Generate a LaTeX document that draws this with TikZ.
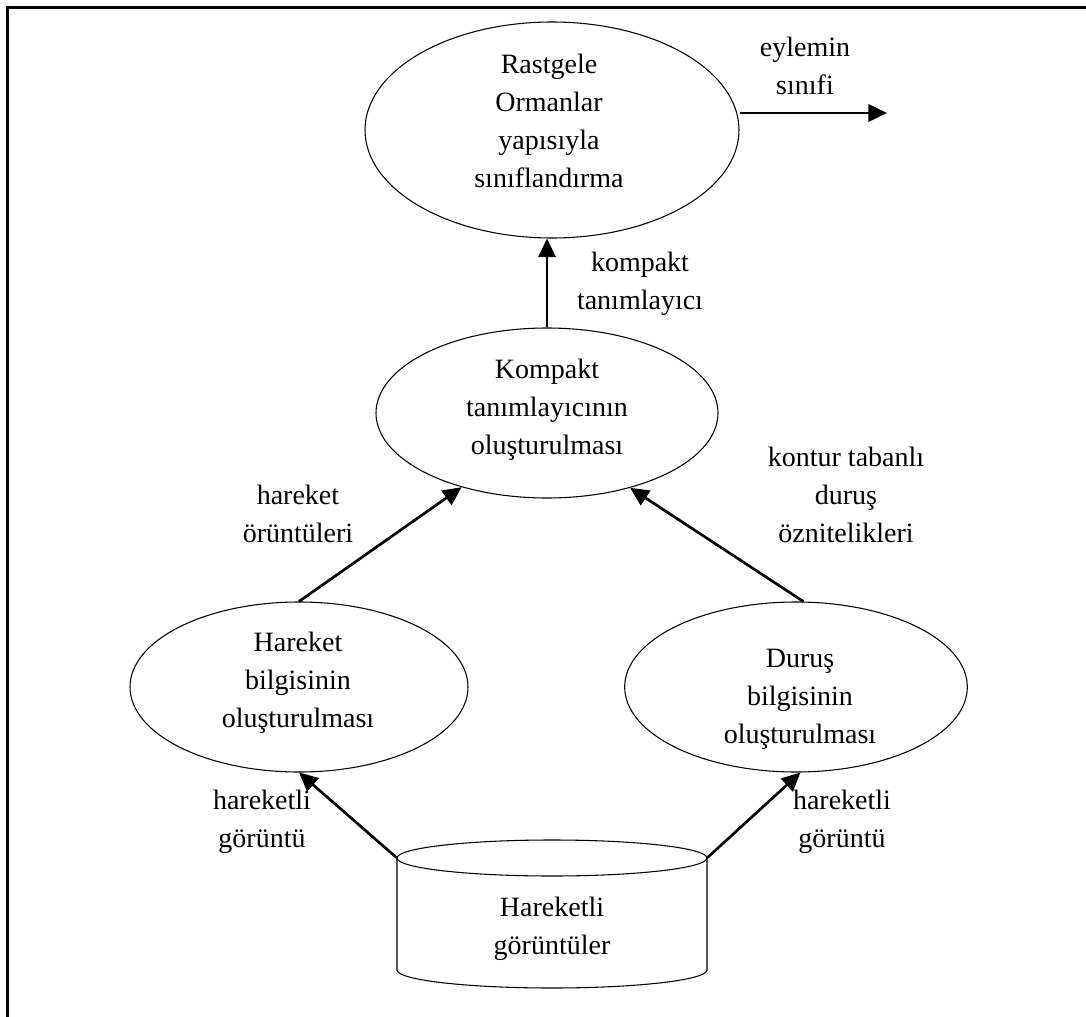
\documentclass[tikz,border=0pt]{standalone}
\usepackage{fontspec}
\setmainfont{Liberation Serif}
\usetikzlibrary{shapes.geometric,arrows.meta}
\tikzset{
  ell/.style={draw, ellipse, line width=0.8pt, inner sep=0pt},
  lbl/.style={font=\fontsize{21}{28.5}\selectfont, align=center, inner sep=0pt},
  arr/.style={line width=2pt, -{Triangle[length=14pt,width=13pt]}},
  frame/.style={line width=2.25pt}
}
\begin{document}
\begin{tikzpicture}[x=0.75pt,y=-0.75pt]
\useasboundingbox (0,0) rectangle (1086,1017);
\draw[frame] (7,1030) -- (7,7) -- (1100,7);

% ellipses
\node[ell, minimum width=280.5pt, minimum height=162pt] (top) at (552,130) {};
\node[ell, minimum width=256.5pt, minimum height=127.5pt] (mid) at (547,413) {};
\node[ell, minimum width=253.5pt, minimum height=127.5pt] (left) at (299,687) {};
\node[ell, minimum width=257pt, minimum height=127.5pt] (right) at (796,687) {};

% texts inside ellipses
\node[lbl] (toptxt) at (549,121) {Rastgele\\Ormanlar\\yapısıyla\\sınıflandırma};
\node[lbl] (midtxt) at (547,410) {Kompakt\\tanımlayıcının\\oluşturulması};
\node[lbl] (lefttxt) at (298,683) {Hareket\\bilgisinin\\oluşturulması};
\node[lbl] (righttxt) at (800,699) {Duruş\\bilgisinin\\oluşturulması};

% cylinder
\coordinate (cylL) at (397,858);
\coordinate (cylR) at (707,858);
\draw[line width=0.8pt] (552,858) ellipse [x radius=116.25pt, y radius=13.5pt];
\draw[line width=0.8pt] (cylL) -- (397,970) arc[start angle=180, end angle=360, x radius=116.25pt, y radius=13.5pt] -- (cylR);
\node[lbl] (cyltxt) at (552,929) {Hareketli\\görüntüler};

% output coordinate
\coordinate (out) at (887,113);

% arrows
\draw[arr] (top.east |- out) -- (out);
\draw[arr] (mid.north) -- (mid.north |- top.south);
\draw[arr] (left.north) -- (mid.221.8);
\draw[arr] (right.85) -- (mid.318.6);
\draw[arr] (cylL) -- (left.south);
\draw[arr] (cylR) -- (right.-87);

% labels
\node[lbl] (l1) at (805,66) {eylemin\\sınıfi};
\node[lbl] (l2) at (640,284) {kompakt\\tanımlayıcı};
\node[lbl] (l3) at (298,514) {hareket\\örüntüleri};
\node[lbl] (l4) at (846,495) {kontur tabanlı\\duruş\\öznitelikleri};
\node[lbl] (l5) at (262,822) {hareketli\\görüntü};
\node[lbl] (l6) at (842,822) {hareketli\\görüntü};
\end{tikzpicture}
\end{document}
